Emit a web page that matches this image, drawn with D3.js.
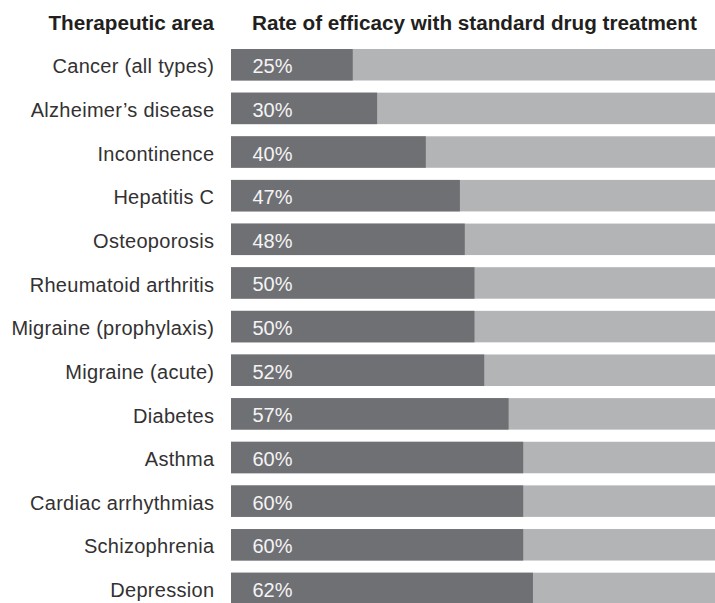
<!DOCTYPE html>
<html><head><meta charset="utf-8">
<script src="https://cdn.jsdelivr.net/npm/d3@7"></script>
<style>body{margin:0;background:#fff}svg{display:block}</style>
</head><body>
<script>
const categories = ["Cancer (all types)","Alzheimer\u2019s disease","Incontinence","Hepatitis C","Osteoporosis","Rheumatoid arthritis","Migraine (prophylaxis)","Migraine (acute)","Diabetes","Asthma","Cardiac arrhythmias","Schizophrenia","Depression"];
const values = [25,30,40,47,48,50,50,52,57,60,60,60,62];
const titleLeft = "Therapeutic area";
const titleRight = "Rate of efficacy with standard drug treatment";

const W = 715, H = 603;
const svg = d3.select("body").append("svg").attr("width", W).attr("height", H);
const font = "'Liberation Sans', Arial, sans-serif";
const x = d3.scaleLinear().domain([0, 100]).range([231, 718]);
const step = 43.64, bandH = 31.5;
const y = d3.scaleBand().domain(categories).range([49, 49 + step * 12 + bandH])
  .paddingInner(1 - bandH / step).paddingOuter(0).align(0);

svg.append("text").attr("x", 214).attr("y", 30).attr("text-anchor", "end")
  .attr("font-family", font).attr("font-weight", "bold").attr("font-size", 20.7).attr("fill", "#231f20").text(titleLeft);
svg.append("text").attr("x", 252).attr("y", 30)
  .attr("font-family", font).attr("font-weight", "bold").attr("font-size", 20.7).attr("fill", "#231f20").text(titleRight);

const rows = svg.selectAll("g.row").data(categories).join("g").attr("class", "row");
rows.append("rect").attr("x", x(0)).attr("y", d => y(d)).attr("width", x(100) - x(0)).attr("height", y.bandwidth()).attr("fill", "#b3b4b6");
rows.append("rect").attr("x", x(0)).attr("y", d => y(d)).attr("width", (d, i) => x(values[i]) - x(0)).attr("height", y.bandwidth()).attr("fill", "#6f7074");
rows.append("text").attr("x", 252.5).attr("y", d => y(d) + y.bandwidth() / 2 + 8.5)
  .attr("font-family", font).attr("font-size", 20).attr("fill", "#f4f4f4").text((d, i) => values[i] + "%");
rows.append("text").attr("x", 214.3).attr("y", d => y(d) + y.bandwidth() / 2 + 8.7).attr("text-anchor", "end")
  .attr("letter-spacing", 0.28)
  .attr("font-family", font).attr("font-size", 20).attr("fill", "#333132").text(d => d);
</script>
</body></html>
